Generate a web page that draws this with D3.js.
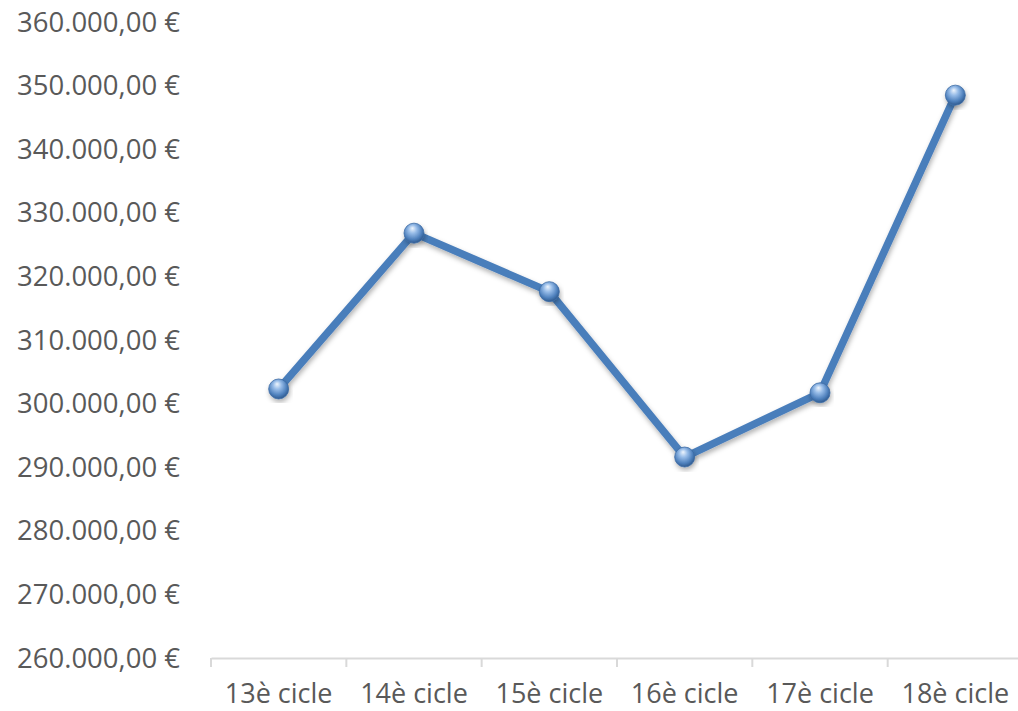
<!DOCTYPE html>
<html>
<head>
<meta charset="utf-8">
<script src="https://cdnjs.cloudflare.com/ajax/libs/d3/7.8.5/d3.min.js"></script>
<style>
  body { margin: 0; background: #fff; }
  svg { display: block; }
</style>
</head>
<body>
<div id="chart"></div>
<script>
var cycles = ["13è cicle", "14è cicle", "15è cicle", "16è cicle", "17è cicle", "18è cicle"];
var amounts = [302300, 326800, 317600, 291600, 301700, 348500];
var yTicks = [260000, 270000, 280000, 290000, 300000, 310000, 320000, 330000, 340000, 350000, 360000];

var width = 1018, height = 711;

var svg = d3.select("#chart").append("svg")
	.attr("width", width)
	.attr("height", height);

var defs = svg.append("defs");

var grad = defs.append("radialGradient")
	.attr("id", "ball")
	.attr("cx", "45%").attr("cy", "40%").attr("r", "60%")
	.attr("fx", "42%").attr("fy", "25%");
grad.append("stop").attr("offset", "0%").attr("stop-color", "#eef5fd");
grad.append("stop").attr("offset", "35%").attr("stop-color", "#97bce8");
grad.append("stop").attr("offset", "75%").attr("stop-color", "#4f81bd");
grad.append("stop").attr("offset", "100%").attr("stop-color", "#2f5a8f");

var shadow = defs.append("filter")
	.attr("id", "shadow")
	.attr("x", "-20%").attr("y", "-20%").attr("width", "140%").attr("height", "140%");
shadow.append("feDropShadow")
	.attr("dx", 1).attr("dy", 3).attr("stdDeviation", 2.5)
	.attr("flood-color", "#000").attr("flood-opacity", 0.3);

var x = d3.scaleBand()
	.domain(cycles)
	.range([211, 1023]);

var y = d3.scaleLinear()
	.domain([260000, 360000])
	.range([658, 22]);

var fmt = function(v) {
	return d3.format(",.2f")(v).replace(/,/g, "#").replace(".", ",").replace(/#/g, ".") + " €";
};

// y labels, no axis line
svg.append("g")
	.selectAll("text")
	.data(yTicks)
	.join("text")
	.attr("x", 180)
	.attr("y", function(d) { return y(d); })
	.attr("dy", "0.35em")
	.attr("text-anchor", "end")
	.attr("font-family", "Open Sans")
	.attr("font-size", 27.5)
	.attr("fill", "#595959")
	.text(fmt);

// x axis
var xAxis = d3.axisBottom(x).tickSize(0).tickPadding(26);
var gx = svg.append("g")
	.attr("transform", "translate(0," + y(260000) + ")")
	.call(xAxis);
gx.select(".domain").attr("stroke", "#d9d9d9").attr("stroke-width", 2);
gx.selectAll("text")
	.attr("font-family", "Open Sans")
	.attr("font-size", 27)
	.attr("fill", "#595959");

gx.append("g")
	.selectAll("line")
	.data(cycles.concat([null]))
	.join("line")
	.attr("x1", function(d, i) { return i < cycles.length ? x(d) : x.range()[1]; })
	.attr("x2", function(d, i) { return i < cycles.length ? x(d) : x.range()[1]; })
	.attr("y1", 0)
	.attr("y2", 9)
	.attr("stroke", "#d9d9d9")
	.attr("stroke-width", 2);

var line = d3.line()
	.x(function(d, i) { return x(cycles[i]) + x.bandwidth() / 2; })
	.y(function(d) { return y(d); });

svg.append("path")
	.datum(amounts)
	.attr("d", line)
	.attr("fill", "none")
	.attr("stroke", "#4a7ebb")
	.attr("stroke-width", 7.5)
	.attr("stroke-linejoin", "round")
	.attr("filter", "url(#shadow)");

svg.append("g")
	.selectAll("circle")
	.data(amounts)
	.join("circle")
	.attr("cx", function(d, i) { return x(cycles[i]) + x.bandwidth() / 2; })
	.attr("cy", function(d) { return y(d); })
	.attr("r", 10)
	.attr("fill", "url(#ball)")
	.attr("stroke", "#3d6ca6")
	.attr("stroke-width", 0.8)
	.attr("filter", "url(#shadow)");
</script>
</body>
</html>
